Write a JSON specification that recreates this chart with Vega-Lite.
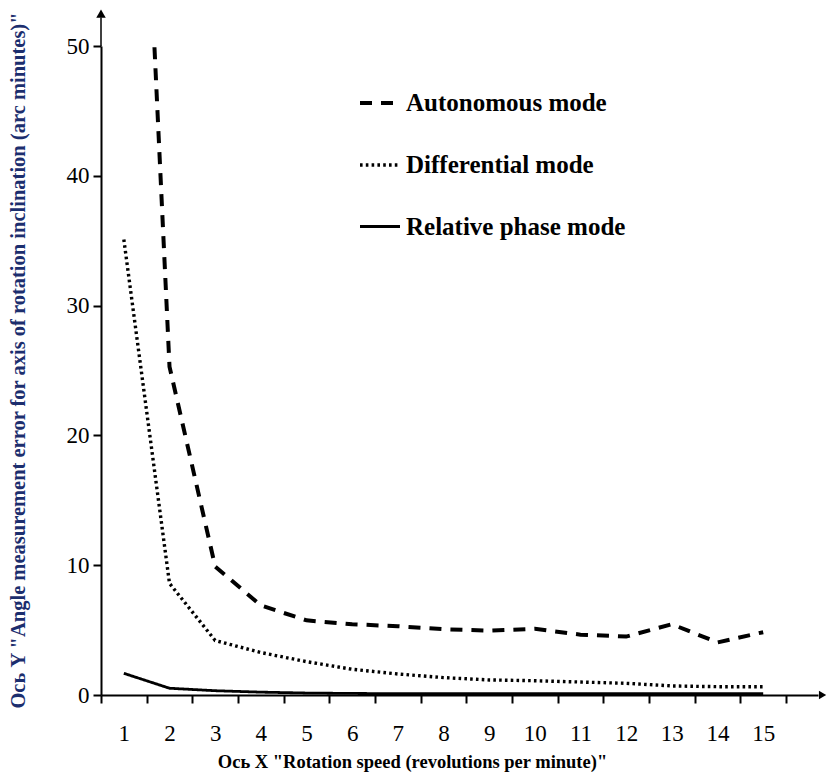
{
  "$schema": "https://vega.github.io/schema/vega-lite/v6.json",
  "width": 717,
  "height": 649,
  "autosize": {"type": "none"},
  "padding": {"left": 101, "top": 46, "right": 9, "bottom": 85},
  "background": "white",
  "config": {
    "view": {"stroke": null},
    "font": "Liberation Serif",
    "axis": {"labelFont": "Liberation Serif", "titleFont": "Liberation Serif"},
    "legend": {"padding": 0, "labelFont": "Liberation Serif", "labelFontWeight": "bold", "labelFontSize": 25}
  },
  "data": {
    "values": [
      {"speed": 1, "error": 100, "mode": "Autonomous mode"},
      {"speed": 2, "error": 25.3, "mode": "Autonomous mode"},
      {"speed": 3, "error": 9.9, "mode": "Autonomous mode"},
      {"speed": 4, "error": 6.9, "mode": "Autonomous mode"},
      {"speed": 5, "error": 5.75, "mode": "Autonomous mode"},
      {"speed": 6, "error": 5.45, "mode": "Autonomous mode"},
      {"speed": 7, "error": 5.3, "mode": "Autonomous mode"},
      {"speed": 8, "error": 5.07, "mode": "Autonomous mode"},
      {"speed": 9, "error": 4.96, "mode": "Autonomous mode"},
      {"speed": 10, "error": 5.1, "mode": "Autonomous mode"},
      {"speed": 11, "error": 4.65, "mode": "Autonomous mode"},
      {"speed": 12, "error": 4.5, "mode": "Autonomous mode"},
      {"speed": 13, "error": 5.45, "mode": "Autonomous mode"},
      {"speed": 14, "error": 4.05, "mode": "Autonomous mode"},
      {"speed": 15, "error": 4.84, "mode": "Autonomous mode"},
      {"speed": 1, "error": 35.1, "mode": "Differential mode"},
      {"speed": 2, "error": 8.6, "mode": "Differential mode"},
      {"speed": 3, "error": 4.2, "mode": "Differential mode"},
      {"speed": 4, "error": 3.27, "mode": "Differential mode"},
      {"speed": 5, "error": 2.57, "mode": "Differential mode"},
      {"speed": 6, "error": 1.98, "mode": "Differential mode"},
      {"speed": 7, "error": 1.62, "mode": "Differential mode"},
      {"speed": 8, "error": 1.34, "mode": "Differential mode"},
      {"speed": 9, "error": 1.16, "mode": "Differential mode"},
      {"speed": 10, "error": 1.1, "mode": "Differential mode"},
      {"speed": 11, "error": 1.0, "mode": "Differential mode"},
      {"speed": 12, "error": 0.9, "mode": "Differential mode"},
      {"speed": 13, "error": 0.7, "mode": "Differential mode"},
      {"speed": 14, "error": 0.64, "mode": "Differential mode"},
      {"speed": 15, "error": 0.64, "mode": "Differential mode"},
      {"speed": 1, "error": 1.67, "mode": "Relative phase mode"},
      {"speed": 2, "error": 0.52, "mode": "Relative phase mode"},
      {"speed": 3, "error": 0.33, "mode": "Relative phase mode"},
      {"speed": 4, "error": 0.22, "mode": "Relative phase mode"},
      {"speed": 5, "error": 0.15, "mode": "Relative phase mode"},
      {"speed": 6, "error": 0.12, "mode": "Relative phase mode"},
      {"speed": 7, "error": 0.1, "mode": "Relative phase mode"},
      {"speed": 8, "error": 0.1, "mode": "Relative phase mode"},
      {"speed": 9, "error": 0.1, "mode": "Relative phase mode"},
      {"speed": 10, "error": 0.1, "mode": "Relative phase mode"},
      {"speed": 11, "error": 0.1, "mode": "Relative phase mode"},
      {"speed": 12, "error": 0.1, "mode": "Relative phase mode"},
      {"speed": 13, "error": 0.1, "mode": "Relative phase mode"},
      {"speed": 14, "error": 0.1, "mode": "Relative phase mode"},
      {"speed": 15, "error": 0.1, "mode": "Relative phase mode"}
    ]
  },
  "layer": [
    {
      "mark": {"type": "line", "clip": true, "strokeCap": "butt", "color": "black"},
      "encoding": {
        "x": {
          "field": "speed",
          "type": "quantitative",
          "scale": {"domain": [0.5, 16.2], "nice": false, "zero": false},
          "axis": {
            "title": "Ось X \"Rotation speed (revolutions per minute)\"",
            "titleFont": "Liberation Serif",
            "titleFontWeight": "bold",
            "titleFontSize": 18.5,
            "titleColor": "black",
            "titleX": 311,
            "titleY": 72,
            "titleAnchor": null,
            "titleAlign": "center",
            "titleBaseline": "alphabetic",
            "values": [0.5, 1.5, 2.5, 3.5, 4.5, 5.5, 6.5, 7.5, 8.5, 9.5, 10.5, 11.5, 12.5, 13.5, 14.5, 15.5],
            "labelExpr": "datum.value < 15 ? format(datum.value + 0.5, 'd') : ''",
            "labelOffset": 22.8,
            "labelFont": "Liberation Serif",
            "labelFontSize": 23,
            "labelColor": "black",
            "labelPadding": 19,
            "labelOverlap": false,
            "labelFlush": false,
            "labelBound": false,
            "domainColor": "black",
            "domainWidth": 2,
            "tickColor": "black",
            "tickWidth": 2,
            "tickSize": 8,
            "grid": false
          }
        },
        "y": {
          "field": "error",
          "type": "quantitative",
          "scale": {"domain": [0, 50], "nice": false, "zero": true},
          "axis": {
            "title": "Ось Y \"Angle measurement error for axis of rotation inclination (arc minutes)\"",
            "titleFont": "Liberation Serif",
            "titleFontWeight": "bold",
            "titleFontSize": 20.5,
            "titleColor": "#1c2e6e",
            "titleAngle": -90,
            "titleX": -83,
            "titleY": 314,
            "titleAlign": "center",
            "titleBaseline": "middle",
            "titleAnchor": null,
            "values": [0, 10, 20, 30, 40, 50],
            "labelFont": "Liberation Serif",
            "labelFontSize": 23,
            "labelColor": "black",
            "labelPadding": 4,
            "domainColor": "black",
            "domainWidth": 2,
            "tickColor": "black",
            "tickWidth": 2,
            "tickSize": 8,
            "grid": false
          }
        },
        "strokeDash": {
          "field": "mode",
          "type": "nominal",
          "scale": {
            "domain": ["Autonomous mode", "Differential mode", "Relative phase mode"],
            "range": [[12, 9], [2.6, 3.2], [1, 0]]
          },
          "legend": {
            "title": null,
            "orient": "none",
            "legendX": 257,
            "legendY": 35,
            "symbolType": "stroke",
            "symbolSize": 1600,
            "symbolStrokeWidth": 3.5,
            "symbolStrokeColor": "black",
            "labelFont": "Liberation Serif",
            "labelFontWeight": "bold",
            "labelFontSize": 25,
            "labelColor": "black",
            "labelOffset": 4,
            "labelLimit": 400,
            "rowPadding": 27
          }
        },
        "strokeWidth": {
          "field": "mode",
          "type": "nominal",
          "scale": {
            "domain": ["Autonomous mode", "Differential mode", "Relative phase mode"],
            "range": [4, 2.8, 4]
          },
          "legend": null
        }
      }
    },
    {
      "data": {"values": [{}]},
      "mark": {"type": "rule", "color": "black", "strokeWidth": 1.5},
      "encoding": {
        "x": {"datum": 0.5, "type": "quantitative"},
        "y": {"datum": 50, "type": "quantitative"},
        "y2": {"datum": 52.2}
      }
    },
    {
      "data": {"values": [{}]},
      "mark": {"type": "point", "shape": "triangle-up", "filled": true, "color": "black", "size": 90, "opacity": 1},
      "encoding": {
        "x": {"datum": 0.5, "type": "quantitative"},
        "y": {"datum": 52.5, "type": "quantitative"}
      }
    },
    {
      "data": {"values": [{}]},
      "mark": {"type": "point", "shape": "triangle-right", "filled": true, "color": "black", "size": 70, "opacity": 1},
      "encoding": {
        "x": {"datum": 16.3, "type": "quantitative"},
        "y": {"datum": 0, "type": "quantitative"}
      }
    }
  ]
}
